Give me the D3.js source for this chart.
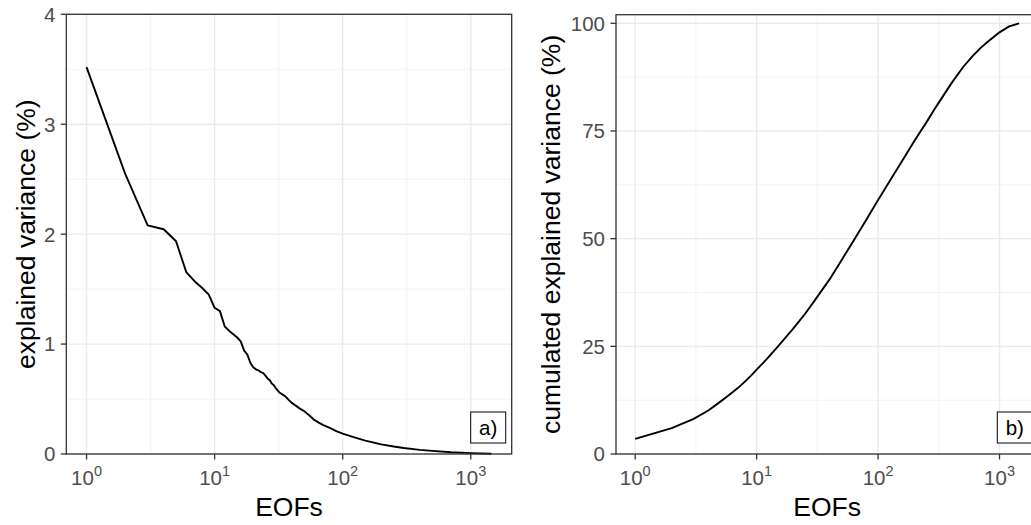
<!DOCTYPE html>
<html>
<head>
<meta charset="utf-8">
<script src="https://cdn.jsdelivr.net/npm/d3@7/dist/d3.min.js"></script>
<style>
  html, body { margin: 0; padding: 0; background: #fff; }
  text { font-family: "Liberation Sans", Arial, Helvetica, sans-serif; }
</style>
</head>
<body>
<svg id="chart" width="1031" height="525"></svg>
<script>
// ---------- data ----------
const nEOF = 1450;
// panel a) explained variance (%) per EOF
const eofA = [1,2,3,4,5,6,7,8,9,10,11,12,13,14,15,16,17,18,19,20,21,22,23,24,25,26,27,28,29,30,32,34,36,38,40,43,46,50,55,60,65,70,80,90,100,120,150,200,250,300,400,500,700,1000,1450];
const varA = [3.52,2.55,2.08,2.045,1.935,1.655,1.57,1.51,1.45,1.33,1.30,1.16,1.12,1.09,1.06,1.025,0.94,0.905,0.83,0.79,0.77,0.76,0.745,0.735,0.71,0.685,0.67,0.64,0.625,0.60,0.56,0.54,0.52,0.49,0.465,0.44,0.415,0.39,0.35,0.31,0.285,0.265,0.235,0.205,0.185,0.155,0.122,0.088,0.068,0.055,0.038,0.028,0.016,0.008,0.002];
// panel b) cumulated explained variance (%)
const eofB = [1,2,3,4,5,6,7,8,9,10,12,15,20,25,30,40,50,63,80,100,130,160,200,250,300,400,500,600,700,800,1000,1200,1450];
const cumB = [3.5,6.0,8.1,10.1,12.1,13.8,15.3,16.8,18.2,19.6,21.9,25.0,29.1,32.5,35.6,40.6,45.0,49.6,54.4,59.0,64.2,68.3,72.8,77.0,80.6,86.0,89.8,92.4,94.3,95.7,97.9,99.3,100];

const xMajor = [1, 10, 100, 1000];
const xMinor = [Math.pow(10,0.5), Math.pow(10,1.5), Math.pow(10,2.5), Math.pow(10,3.5)];
const yMajorA = [0,1,2,3,4];
const yMinorA = [0.5,1.5,2.5,3.5];
const yMajorB = [0,25,50,75,100];
const yMinorB = [12.5,37.5,62.5,87.5];

const svg = d3.select("#chart");

// ggplot-like log expansion (5% on each side in log space)
const lmin = Math.log10(1), lmax = Math.log10(nEOF);
const ex = (lmax - lmin) * 0.05;
const xDomain = [Math.pow(10, lmin - ex), Math.pow(10, lmax + ex)];

function panel(opt) {
  const {x0, x1, y0, y1, yDomain, yMajor, yMinor, xs, ys, label, ytitle, ytitleX} = opt;
  const x = d3.scaleLog().domain(xDomain).range([x0, x1]);
  const y = d3.scaleLinear().domain(yDomain).range([y1, y0]);
  const g = svg.append("g");

  // minor grid
  g.selectAll(".vminor").data(xMinor.filter(v => v > xDomain[0] && v < xDomain[1])).enter()
    .append("line").attr("x1", d => x(d)).attr("x2", d => x(d)).attr("y1", y0).attr("y2", y1)
    .attr("stroke", "#F2F2F2").attr("stroke-width", 1);
  g.selectAll(".hminor").data(yMinor).enter()
    .append("line").attr("x1", x0).attr("x2", x1).attr("y1", d => y(d)).attr("y2", d => y(d))
    .attr("stroke", "#F2F2F2").attr("stroke-width", 1);
  // major grid
  g.selectAll(".vmajor").data(xMajor).enter()
    .append("line").attr("x1", d => x(d)).attr("x2", d => x(d)).attr("y1", y0).attr("y2", y1)
    .attr("stroke", "#EBEBEB").attr("stroke-width", 1.4);
  g.selectAll(".hmajor").data(yMajor).enter()
    .append("line").attr("x1", x0).attr("x2", x1).attr("y1", d => y(d)).attr("y2", d => y(d))
    .attr("stroke", "#EBEBEB").attr("stroke-width", 1.4);

  // line
  const pts = xs.map((k, i) => [k, ys[i]]);
  g.append("path").datum(pts)
    .attr("d", d3.line().x(d => x(d[0])).y(d => y(d[1])))
    .attr("fill", "none").attr("stroke", "#000").attr("stroke-width", 1.9)
    .attr("stroke-linejoin", "round");

  // label box
  const bw = 35, bh = 31;
  g.append("rect").attr("x", x1 - 6 - bw).attr("y", y1 - 11 - bh).attr("width", bw).attr("height", bh)
    .attr("fill", "#fff").attr("stroke", "#000").attr("stroke-width", 1);
  g.append("text").attr("x", x1 - 6 - bw/2).attr("y", y1 - 11 - bh/2).attr("dy", "0.36em")
    .attr("text-anchor", "middle").attr("font-size", 20.5).attr("fill", "#000").text(label);

  // border
  g.append("rect").attr("x", x0).attr("y", y0).attr("width", x1 - x0).attr("height", y1 - y0)
    .attr("fill", "none").attr("stroke", "#333333").attr("stroke-width", 1.3);

  // x ticks
  g.selectAll(".xt").data(xMajor).enter().append("line")
    .attr("x1", d => x(d)).attr("x2", d => x(d)).attr("y1", y1).attr("y2", y1 + 5.5)
    .attr("stroke", "#333333").attr("stroke-width", 1.3);
  const xl = g.selectAll(".xl").data(xMajor).enter().append("text")
    .attr("x", d => x(d)).attr("y", y1 + 31).attr("text-anchor", "middle")
    .attr("fill", "#4D4D4D").attr("font-size", 20.5);
  xl.append("tspan").text("10");
  xl.append("tspan").attr("font-size", 14.5).attr("dy", -9).text(d => Math.round(Math.log10(d)));

  // y ticks
  g.selectAll(".yt").data(yMajor).enter().append("line")
    .attr("x1", x0 - 5.5).attr("x2", x0).attr("y1", d => y(d)).attr("y2", d => y(d))
    .attr("stroke", "#333333").attr("stroke-width", 1.3);
  g.selectAll(".yl").data(yMajor).enter().append("text")
    .attr("x", x0 - 11).attr("y", d => y(d)).attr("dy", "0.36em").attr("text-anchor", "end")
    .attr("fill", "#4D4D4D").attr("font-size", 20.5).text(d => d);

  // titles
  g.append("text").attr("x", (x0 + x1) / 2).attr("y", 516).attr("text-anchor", "middle")
    .attr("font-size", 26.5).attr("fill", "#000").text("EOFs");
  g.append("text").attr("transform", `translate(${ytitleX},${(y0 + y1) / 2}) rotate(-90)`)
    .attr("dy", "0.36em").attr("text-anchor", "middle")
    .attr("font-size", 26.5).attr("fill", "#000").text(ytitle);
}

panel({x0: 66.3, x1: 511.7, y0: 14.3, y1: 454, yDomain: [0, 4], yMajor: yMajorA, yMinor: yMinorA,
       xs: eofA, ys: varA, label: "a)", ytitle: "explained variance (%)", ytitleX: 25});
panel({x0: 616, x1: 1038.3, y0: 14.7, y1: 454, yDomain: [0, 102], yMajor: yMajorB, yMinor: yMinorB,
       xs: eofB, ys: cumB, label: "b)", ytitle: "cumulated explained variance (%)", ytitleX: 550});
</script>
</body>
</html>
